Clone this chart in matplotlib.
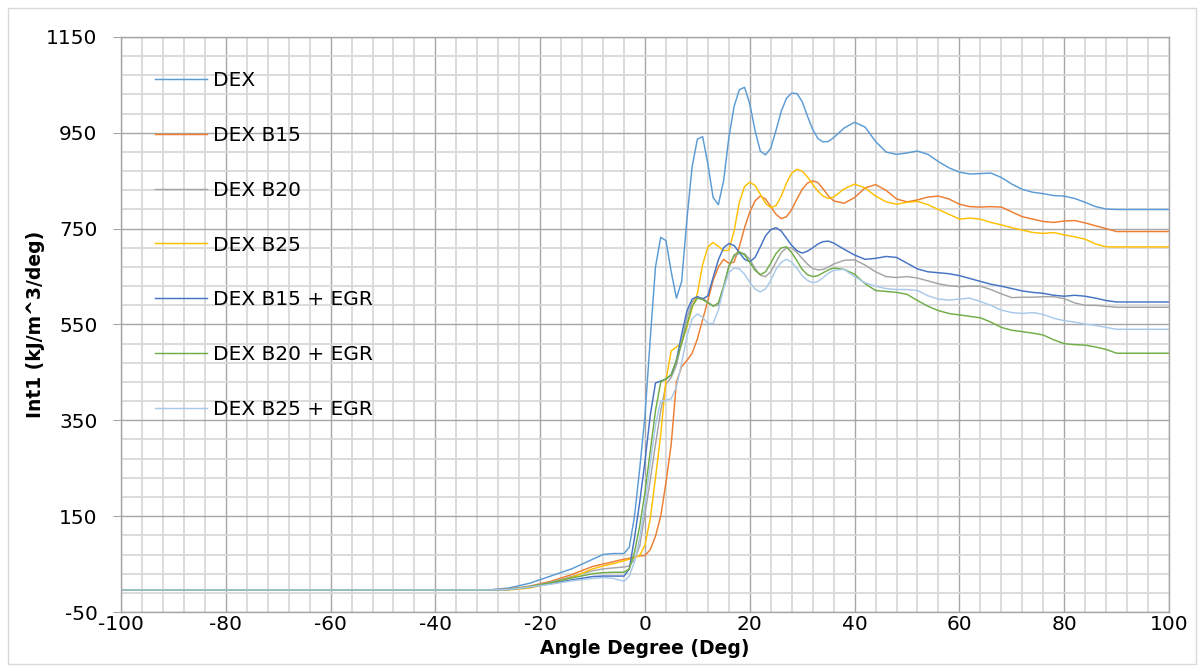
import matplotlib
matplotlib.use("Agg")
import matplotlib.pyplot as plt
from matplotlib.patches import Rectangle
from matplotlib.ticker import FixedLocator, MultipleLocator
import numpy as np

plt.rcParams['font.family'] = ['DejaVu Sans']
plt.rcParams['axes.unicode_minus'] = False

# ---------------- data ----------------
angle = [-100, -30, -26, -22, -18, -14, -10, -8, -6, -5, -4, -3, -2, -1,
         0, 1, 2, 3, 4, 5, 6, 7, 8, 9, 10, 11, 12, 13, 14, 15, 16, 17, 18, 19,
         20, 21, 22, 23, 24, 25, 26, 27, 28, 29, 30, 31, 32, 33, 34, 35, 36,
         38, 40, 42, 44, 46, 48, 50, 52, 54, 56, 58, 60, 62, 64, 66, 68, 70,
         72, 74, 76, 78, 80, 82, 84, 86, 88, 90, 100]

dex = [-4, -4, 0, 10, 25, 40, 60, 70, 72, 72, 72, 85, 150, 250,
       360, 520, 670, 732, 725, 660, 605, 640, 770, 880, 937, 942, 885, 815, 800, 850,
       940, 1005, 1040, 1045, 1010, 955, 912, 904, 918, 955, 995, 1022, 1033, 1032,
       1015, 985, 957, 938, 931, 932, 940,
       960, 972, 962, 932, 910, 905, 908, 912, 905, 890, 877, 868, 864, 865, 866,
       857, 843, 832, 826, 823, 819, 818, 813, 805, 796, 791, 790,
       790]

dex_b15 = [-4, -4, -2, 4, 14, 28, 45, 50, 55, 58, 60, 62, 65, 67,
           68, 80, 108, 150, 220, 300, 430, 462, 475, 490, 520, 560, 600, 642, 670, 686,
           678, 680, 712, 752, 785, 808, 818, 812, 796, 780, 771, 775, 790, 812,
           832, 845, 850, 846, 833, 818, 808,
           803, 815, 835, 842, 830, 812, 806, 810, 816, 818, 812, 801, 796, 795, 796,
           795, 785, 775, 770, 765, 763, 766, 767, 762, 756, 750, 744,
           744]

dex_b20 = [-4, -4, -3, 3, 12, 24, 36, 40, 42, 43, 44, 46, 60, 88,
           156, 225, 300, 370, 425, 440, 465, 515, 565, 597, 607, 605, 597, 589, 590, 628,
           672, 692, 699, 698, 686, 667, 653, 650, 660, 680, 700, 710, 710, 700,
           688, 676, 667, 664, 665, 670, 676,
           684, 685, 674, 660, 650, 648, 650, 647, 641, 635, 631, 629, 630, 630, 623,
           614, 606, 607, 607, 608, 608, 604, 595, 590, 590, 588, 586,
           586]

dex_b25 = [-4, -4, -4, 0, 10, 22, 40, 46, 51, 54, 57, 60, 63, 68,
           90, 145, 230, 320, 434, 495, 503, 512, 545, 585, 615, 675, 712, 721, 713, 704,
           705, 745, 805, 838, 847, 840, 822, 803, 794, 798, 818, 845, 866, 874,
           870, 858, 843, 828, 818, 813, 816,
           833, 843, 835, 818, 806, 801, 805, 807, 800, 790, 780, 770, 772, 770, 763,
           758, 752, 747, 742, 740, 742, 737, 733, 728, 718, 712, 712,
           712]

dex_b15_egr = [-4, -4, -3, 2, 9, 17, 24, 25, 25, 25, 25, 40, 105, 180,
               265, 360, 428, 432, 436, 445, 475, 530, 578, 603, 608, 603, 610, 648, 685, 710,
               719, 715, 700, 686, 681, 690, 712, 735, 748, 752, 745, 730, 715, 704,
               699, 703, 710, 718, 723, 724, 720,
               707, 695, 686, 688, 692, 690, 678, 666, 660, 658, 656, 652, 646, 640, 634,
               630, 625, 620, 617, 615, 611, 609, 611, 609, 605, 600, 597,
               597]

dex_b20_egr = [-4, -4, -3, 3, 11, 21, 30, 32, 33, 33, 33, 40, 75, 130,
               200, 285, 370, 430, 437, 445, 475, 510, 550, 588, 605, 602, 595, 588, 595, 630,
               670, 695, 702, 695, 680, 663, 654, 660, 678, 698, 710, 712, 700, 683,
               665, 654, 650, 652, 658, 664, 668,
               665, 655, 635, 621, 619, 617, 613, 600, 588, 579, 573, 570, 567, 564, 555,
               544, 538, 535, 532, 528, 518, 510, 508, 507, 503, 498, 490,
               490]

dex_b25_egr = [-4, -4, -3, 2, 8, 15, 20, 22, 20, 17, 14, 25, 55, 105,
               175, 260, 340, 390, 392, 395, 420, 470, 525, 562, 572, 565, 552, 552, 580, 625,
               658, 668, 666, 655, 638, 624, 618, 624, 642, 665, 680, 686, 680, 667,
               652, 642, 637, 640, 648, 657, 663,
               665, 650, 637, 630, 625, 623, 623, 621, 610, 603, 601, 603, 605, 598, 590,
               580, 575, 573, 575, 571, 563, 558, 555, 551, 548, 544, 540,
               540]

series_names = ["DEX", "DEX B15", "DEX B20", "DEX B25",
                "DEX B15 + EGR", "DEX B20 + EGR", "DEX B25 + EGR"]
series_values = [dex, dex_b15, dex_b20, dex_b25, dex_b15_egr, dex_b20_egr, dex_b25_egr]
series_colors = ["#5B9BD5", "#ED7D31", "#A5A5A5", "#FFC000",
                 "#4472C4", "#70AD47", "#A9C9EA"]

x_ticks = [-100, -80, -60, -40, -20, 0, 20, 40, 60, 80, 100]
y_ticks = [-50, 150, 350, 550, 750, 950, 1150]

# ---------------- figure ----------------
W, H = 1204, 672
fig = plt.figure(figsize=(W / 100, H / 100), dpi=100)
ax = fig.add_axes([121 / W, 1 - 612 / H, (1169 - 121) / W, (612 - 37) / H])

for name, vals, col in zip(series_names, series_values, series_colors):
    ax.plot(angle, vals, color=col, lw=1.05, label=name, solid_joinstyle='round')

ax.set_xlim(-100, 100)
ax.set_ylim(-50, 1150)
ax.xaxis.set_major_locator(FixedLocator(x_ticks))
ax.yaxis.set_major_locator(FixedLocator(y_ticks))
ax.xaxis.set_minor_locator(MultipleLocator(4))
ax.yaxis.set_minor_locator(FixedLocator(np.arange(-50, 1151, 40)))

ax.grid(which='minor', color='#d9d9d9', lw=1.3, zorder=0)
ax.grid(which='major', color='#a6a6a6', lw=1.0, zorder=0)
ax.set_axisbelow(True)

for s in ax.spines.values():
    s.set_color('#a6a6a6')
    s.set_linewidth(1.0)

ax.tick_params(which='major', labelsize=14.5)
ax.tick_params(axis='y', which='major', direction='out', length=6,
               color='#a6a6a6', pad=11)
ax.tick_params(axis='x', which='major', length=0, pad=2)
ax.tick_params(which='minor', length=0)

ax.set_xlabel("Angle Degree (Deg)", fontsize=13.5, fontweight='bold', labelpad=4)
ax.set_ylabel("Int1 (kJ/m^3/deg)", fontsize=13.5, fontweight='bold', labelpad=1)

leg = ax.legend(loc='upper left', bbox_to_anchor=(155 / W, 1 - 71 / H),
                bbox_transform=fig.transFigure, frameon=False, fontsize=14.5,
                handlelength=2.6, handletextpad=0.3, labelspacing=1.78,
                borderpad=0, borderaxespad=0)

fig.patches.append(Rectangle((8 / W, 8 / H), 1188 / W, 656 / H, fill=False,
                             edgecolor='#d9d9d9', lw=1.0, transform=fig.transFigure))

fig.savefig("out.png", dpi=100)
